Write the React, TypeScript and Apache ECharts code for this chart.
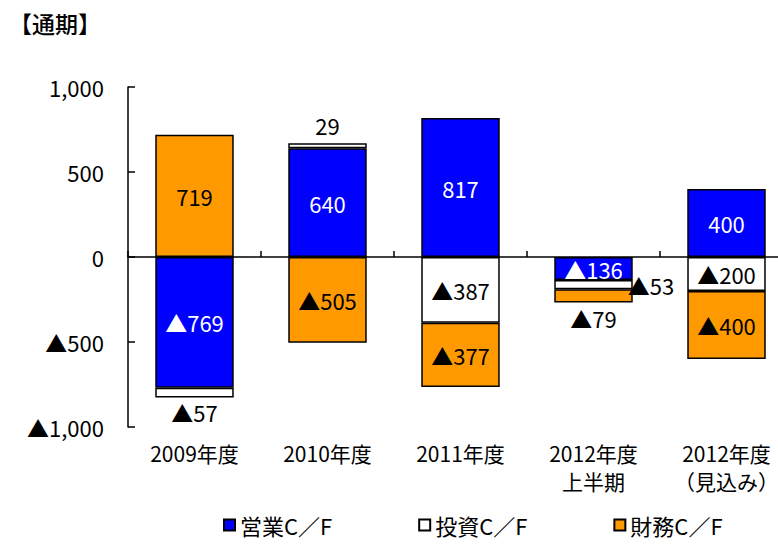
import React, { useEffect, useRef } from "react";
import * as echarts from "echarts";

const categories = ["2009年度", "2010年度", "2011年度", "2012年度\n上半期", "2012年度\n（見込み）"];
const seriesNames = ["営業C／F", "投資C／F", "財務C／F"];
const operatingCF = [-769, 640, 817, -136, 400];
const investingCF = [-57, 29, -387, -53, -200];
const financingCF = [719, -505, -377, -79, -400];
const yTicks = [-1000, -500, 0, 500, 1000];

const FONT = "'Noto Sans CJK JP', 'Noto Sans', sans-serif";

const fmt = (v: number) => {
  const s = Math.abs(v).toLocaleString("en-US");
  return v < 0 ? "▲" + s : s;
};

// label placement per item (style, not data)
const invPos = ["bottom", "top", "inside", "right", "inside"];
const finPos = ["inside", "inside", "inside", "bottom", "inside"];

export default function App() {
  const ref = useRef<HTMLDivElement>(null);
  useEffect(() => {
    document.body.style.margin = "0";
    document.body.style.overflow = "hidden";
    const chart = echarts.init(ref.current!, null, { renderer: "svg" });
    const labelBase = { show: true, fontFamily: FONT, fontSize: 22, color: "#000" };
    const mkData = (vals: number[], pos: string[] | null) =>
      vals.map((v, i) => {
        const p = pos ? pos[i] : "inside";
        const lab: any = { position: p };
        if (p === "right") lab.distance = -5;
        if (p === "top") lab.distance = 7;
        if (p === "bottom") lab.distance = 4;
        return { value: v, label: lab };
      });
    const border = { borderColor: "#000", borderWidth: 1.5 };
    chart.setOption({
      animation: false,
      textStyle: { fontFamily: FONT },
      title: {
        text: "【通期】",
        left: 4,
        top: 6,
        textStyle: { fontFamily: FONT, fontSize: 23, fontWeight: 500, color: "#000" },
      },
      legend: {
        bottom: 3,
        left: 218,
        icon: "rect",
        itemWidth: 11,
        itemHeight: 11,
        itemGap: 86,
        textStyle: { fontFamily: FONT, fontSize: 22, color: "#000" },
        data: seriesNames,
      },
      grid: { left: 128, right: 0, top: 87, bottom: 117 },
      xAxis: [
        {
          type: "category",
          data: categories,
          axisLine: { show: false, onZero: false },
          axisTick: { show: false },
          axisLabel: { interval: 0, fontFamily: FONT, fontSize: 21, color: "#000", margin: 12, lineHeight: 28 },
        },
        {
          type: "category",
          data: categories,
          position: "bottom",
          axisLine: { show: true, onZero: true, lineStyle: { color: "#000", width: 1.5 } },
          axisTick: { show: true, inside: true, length: 6, lineStyle: { color: "#000", width: 1.5 } },
          axisLabel: { show: false },
        },
      ],
      yAxis: {
        type: "value",
        min: yTicks[0],
        max: yTicks[yTicks.length - 1],
        interval: 500,
        splitLine: { show: false },
        axisLine: { show: true, lineStyle: { color: "#000", width: 1.5 } },
        axisTick: { show: true, inside: true, length: 7, lineStyle: { color: "#000", width: 1.5 } },
        axisLabel: { fontFamily: FONT, fontSize: 22, color: "#000", margin: 24, formatter: (v: number) => fmt(v) },
      },
      series: [
        {
          name: seriesNames[0],
          type: "bar",
          stack: "cf",
          barWidth: "59%",
          itemStyle: { color: "#0000FF", ...border },
          label: { ...labelBase, color: "#fff", formatter: (p: any) => fmt(p.value) },
          data: mkData(operatingCF, null),
        },
        {
          name: seriesNames[1],
          type: "bar",
          stack: "cf",
          barWidth: "59%",
          itemStyle: { color: "#FFFFFF", ...border },
          label: { ...labelBase, formatter: (p: any) => fmt(p.value) },
          data: mkData(investingCF, invPos),
        },
        {
          name: seriesNames[2],
          type: "bar",
          stack: "cf",
          barWidth: "59%",
          itemStyle: { color: "#FF9900", ...border },
          label: { ...labelBase, formatter: (p: any) => fmt(p.value) },
          data: mkData(financingCF, finPos),
        },
      ],
    });
    return () => chart.dispose();
  }, []);
  return (
    <div style={{ width: 778, height: 544, overflow: "hidden" }}>
      <div ref={ref} style={{ width: 793, height: 544 }} />
    </div>
  );
}
